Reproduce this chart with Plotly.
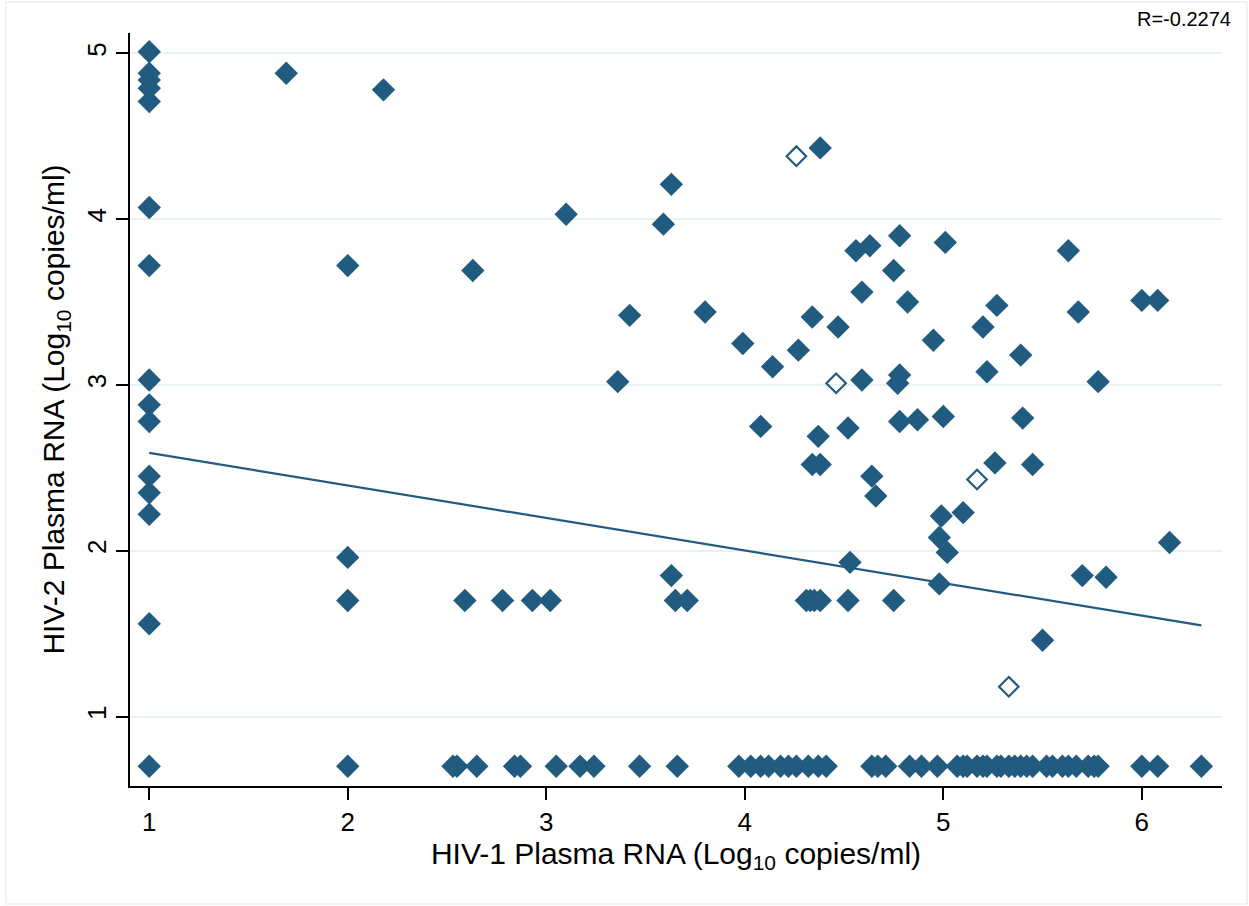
import plotly.graph_objects as go

# HIV-1 (x) and HIV-2 (y) plasma RNA, log10 copies/ml — filled markers
hiv1_filled = [
    1, 1, 1, 1, 1, 1, 1, 1, 1, 1, 1, 1, 1, 1, 1,
    2, 2, 2, 2,
    1.69, 2.18, 2.63, 3.10, 3.42, 3.36, 3.59, 3.63, 3.80, 3.99, 4.14, 4.27, 4.08,
    4.38, 4.34, 4.47, 4.37, 4.52, 4.34, 4.38, 4.64, 4.66, 4.59, 4.77, 4.78, 4.78,
    4.87, 5.00, 4.95, 4.82, 4.75, 4.59, 4.56, 4.63, 4.78, 5.01, 5.63, 5.27, 5.68,
    6.00, 6.08, 5.20, 5.39, 5.22, 5.78, 5.40, 5.26, 5.45, 4.99, 5.10, 4.98, 5.02,
    4.53, 4.98, 5.70, 5.82, 6.14, 5.50, 3.63,
    2.59, 2.78, 2.93, 3.02, 3.65, 3.71, 4.31, 4.33, 4.35, 4.38, 4.52, 4.75,
    2.53, 2.55, 2.65, 2.84, 2.87, 3.05, 3.17, 3.24, 3.47, 3.66, 3.97, 4.03, 4.08,
    4.12, 4.18, 4.22, 4.26, 4.32, 4.37, 4.41, 4.64, 4.67, 4.71, 4.83, 4.89, 4.97,
    5.07, 5.10, 5.12, 5.17, 5.20, 5.22, 5.27, 5.29, 5.33, 5.36, 5.39, 5.42, 5.45,
    5.52, 5.55, 5.60, 5.63, 5.67, 5.73, 5.76, 5.78, 6.00, 6.08, 6.30,
]
hiv2_filled = [
    5.01, 4.88, 4.84, 4.79, 4.71, 4.07, 3.72, 3.03, 2.88, 2.78, 2.45, 2.35, 2.22, 1.56, 0.70,
    3.72, 1.96, 1.70, 0.70,
    4.88, 4.78, 3.69, 4.03, 3.42, 3.02, 3.97, 4.21, 3.44, 3.25, 3.11, 3.21, 2.75,
    4.43, 3.41, 3.35, 2.69, 2.74, 2.52, 2.52, 2.45, 2.33, 3.03, 3.01, 3.06, 2.78,
    2.79, 2.81, 3.27, 3.50, 3.69, 3.56, 3.81, 3.84, 3.90, 3.86, 3.81, 3.48, 3.44,
    3.51, 3.51, 3.35, 3.18, 3.08, 3.02, 2.80, 2.53, 2.52, 2.21, 2.23, 2.08, 1.99,
    1.93, 1.80, 1.85, 1.84, 2.05, 1.46, 1.85,
    1.70, 1.70, 1.70, 1.70, 1.70, 1.70, 1.70, 1.70, 1.70, 1.70, 1.70, 1.70,
    0.70, 0.70, 0.70, 0.70, 0.70, 0.70, 0.70, 0.70, 0.70, 0.70, 0.70, 0.70, 0.70,
    0.70, 0.70, 0.70, 0.70, 0.70, 0.70, 0.70, 0.70, 0.70, 0.70, 0.70, 0.70, 0.70,
    0.70, 0.70, 0.70, 0.70, 0.70, 0.70, 0.70, 0.70, 0.70, 0.70, 0.70, 0.70, 0.70,
    0.70, 0.70, 0.70, 0.70, 0.70, 0.70, 0.70, 0.70, 0.70, 0.70, 0.70,
]

# hollow markers
hiv1_open = [4.26, 4.46, 5.17, 5.33]
hiv2_open = [4.38, 3.01, 2.43, 1.18]

# linear fit line end points
fit_x = [1.0, 6.30]
fit_y = [2.59, 1.55]

x_ticks = [1, 2, 3, 4, 5, 6]
y_ticks = [1, 2, 3, 4, 5]
r_label = "R=-0.2274"

navy = "#225B80"
grid = "#E9F1F2"
font_family = "Liberation Sans, Arial, Helvetica, sans-serif"

fig = go.Figure()
fig.add_trace(go.Scatter(
    x=fit_x, y=fit_y, mode="lines",
    line=dict(color=navy, width=2.2), hoverinfo="skip", showlegend=False))
fig.add_trace(go.Scatter(
    x=hiv1_filled, y=hiv2_filled, mode="markers",
    marker=dict(symbol="diamond", size=18, color=navy, line=dict(width=0)),
    showlegend=False))
fig.add_trace(go.Scatter(
    x=hiv1_open, y=hiv2_open, mode="markers",
    marker=dict(symbol="diamond-open", size=15, color=navy, line=dict(width=2.2, color=navy)),
    showlegend=False))

fig.update_layout(
    width=1249, height=906,
    margin=dict(l=130, r=27, t=33, b=120),
    paper_bgcolor="white", plot_bgcolor="white",
    font=dict(family=font_family, color="black"),
    showlegend=False,
)
fig.update_xaxes(
    range=[0.903, 6.404], tickvals=x_ticks, ticktext=[str(v) for v in x_ticks],
    showgrid=False, zeroline=False,
    showline=True, linecolor="black", linewidth=1.5,
    ticks="outside", ticklen=12, tickwidth=1.5, tickcolor="black",
    tickfont=dict(size=26),
    title=dict(text="HIV-1 Plasma RNA (Log<sub>10</sub> copies/ml)", font=dict(size=30), standoff=6),
)
fig.update_yaxes(
    range=[0.581, 5.123], tickvals=y_ticks, ticktext=[str(v) for v in y_ticks],
    showgrid=True, gridcolor=grid, gridwidth=1.5, zeroline=False,
    showline=True, linecolor="black", linewidth=1.5,
    ticks="outside", ticklen=12, tickwidth=1.5, tickcolor="black",
    tickfont=dict(size=26), tickangle=-90,
    title=dict(text="HIV-2 Plasma RNA (Log<sub>10</sub> copies/ml)", font=dict(size=30), standoff=8),
)
fig.add_annotation(
    text=r_label, xref="paper", yref="paper", x=1.01, y=1.0, xanchor="right", yanchor="bottom",
    showarrow=False, font=dict(size=20, family=font_family, color="black"), yshift=1,
)
fig.add_shape(
    type="rect", xref="paper", yref="paper",
    x0=-0.1136, x1=1.0229, y0=-0.1567, y1=1.0412,
    line=dict(color=grid, width=1.5), fillcolor="rgba(0,0,0,0)", layer="below",
)

fig.write_html("out.html")
